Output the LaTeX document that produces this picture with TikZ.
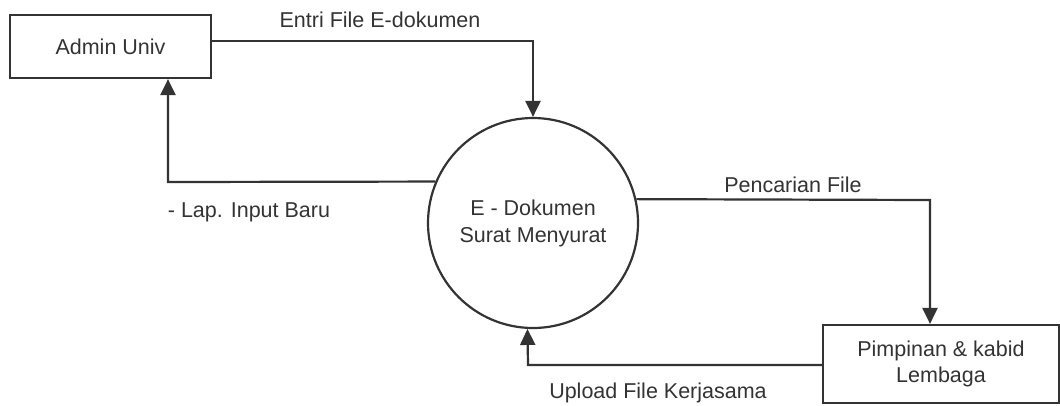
\documentclass[tikz,border=0pt]{standalone}
\usepackage{fontspec}
\setmainfont{Liberation Sans}
\usetikzlibrary{arrows.meta}
\definecolor{ink}{HTML}{333333}
\tikzset{
  entity/.style={draw=ink, line width=2.2pt, rectangle, align=center, text=ink,
    font=\fontsize{21.5}{26}\selectfont},
  process/.style={draw=ink, line width=2.2pt, circle, align=center, text=ink,
    font=\fontsize{21.5}{27}\selectfont},
  flow/.style={draw=ink, line width=2.2pt, -{Triangle[length=16pt,width=15pt]}},
  flowlabel/.style={text=ink, font=\fontsize{21.5}{24}\selectfont, inner sep=0pt}
}
\begin{document}
\begin{tikzpicture}[x=1pt, y=-1pt]
\useasboundingbox (0,0) rectangle (1060,405);

% external entities and the process
\node[entity, minimum width=201pt, minimum height=63pt] (admin) at (110.5,46.5) {Admin Univ};
\node[process, minimum size=210pt, inner sep=0pt] (proc) at (533,223) {E - Dokumen\\Surat Menyurat};
\node[entity, minimum width=236pt, minimum height=78pt] (pim) at (941,364) {Pimpinan \& kabid\\Lembaga};

% bend points of the data flows
\coordinate (c1) at (533,41);
\coordinate (c2) at (168,182);
\coordinate (c3) at (930,200);
\coordinate (c4) at (528,365);

% data flows
\draw[flow] (admin.east |- c1) -- (c1) -- (proc.north);
\draw[flow] (proc.157) -- (c2) -- (admin.south -| c2);
\draw[flow] (proc.13) -- (c3) -- (c3 |- pim.north);
\draw[flow] (pim.west |- c4) -- (c4) -- (proc.267);

% flow labels
\node[flowlabel] (l1) at (380,20) {Entri File E-dokumen};
\node[flowlabel] (l2) at (249,212) {- Lap. Input Baru};
\node[flowlabel] (l3) at (793,185) {Pencarian File};
\node[flowlabel] (l4) at (658,393) {Upload File Kerjasama};
\end{tikzpicture}
\end{document}
